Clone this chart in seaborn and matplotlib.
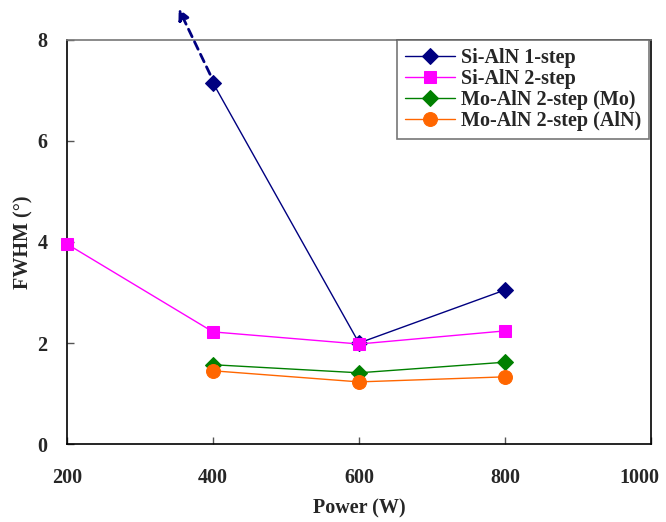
import numpy as np
import pandas as pd
import matplotlib.pyplot as plt
import matplotlib.transforms as mtransforms
import seaborn as sns

power = [200, 400, 600, 800]
si_1step = [np.nan, 7.15, 2.0, 3.05]
si_2step = [3.96, 2.22, 1.98, 2.24]
mo_2step_mo = [np.nan, 1.57, 1.41, 1.62]
mo_2step_aln = [np.nan, 1.45, 1.23, 1.33]
names = ["Si-AlN 1-step", "Si-AlN 2-step", "Mo-AlN 2-step (Mo)", "Mo-AlN 2-step (AlN)"]
xticks = [200, 400, 600, 800, 1000]
yticks = [0, 2, 4, 6, 8]

sns.set_style("ticks")
plt.rcParams['font.family'] = ['Liberation Serif', 'DejaVu Serif']
plt.rcParams['font.weight'] = 'bold'

data = pd.DataFrame({
    'power': power * 4,
    'fwhm': si_1step + si_2step + mo_2step_mo + mo_2step_aln,
    'series': [n for n in names for _ in power],
}).dropna()

fig = plt.figure(figsize=(6.66, 5.22), dpi=100)
ax = fig.add_axes([0.1006, 0.1494, 0.8769, 0.774])

colors = ['#000080', '#FF00FF', '#008000', '#FF6600']
markers = ['D', 's', 'D', 'o']
sizes = [8, 8, 8, 10]
for name, c, m, s in zip(names, colors, markers, sizes):
    sub = data[data['series'] == name]
    sns.lineplot(data=sub, x='power', y='fwhm', ax=ax, color=c, marker=m,
                 markersize=s, markeredgecolor=c, linewidth=1, label=name,
                 clip_on=False, zorder=3)

# dashed arrow leaving the top of the plot
ax.annotate('', xy=(353, 8.62), xytext=(396, 7.32), annotation_clip=False,
            arrowprops=dict(arrowstyle='-|>', linestyle=(0, (3, 2)), color='#000080',
                            lw=2, mutation_scale=16, shrinkA=0, shrinkB=0))

ax.set_xlim(200, 1000)
ax.set_ylim(0, 8)
ax.set_xticks(xticks)
ax.set_yticks(yticks)
ax.tick_params(direction='in', length=5, width=1, labelsize=14.5, color='#555555')
ax.tick_params(axis='x', pad=17)
ax.tick_params(axis='y', pad=14)
for lab in ax.get_xticklabels() + ax.get_yticklabels():
    lab.set_fontweight('bold')
# last x label sits a little inside the figure edge
last = ax.get_xticklabels()[-1]
last.set_transform(last.get_transform() + mtransforms.ScaledTranslation(-0.12, 0, fig.dpi_scale_trans))
ax.set_xlabel('Power (W)', fontsize=14.5, fontweight='bold', labelpad=8)
ax.set_ylabel('FWHM (°)', fontsize=14.5, fontweight='bold', labelpad=3)

for side in ['left', 'bottom', 'right']:
    ax.spines[side].set_color('black')
    ax.spines[side].set_linewidth(1.2)
ax.spines['top'].set_color('#777777')
ax.spines['top'].set_linewidth(1.2)

leg = ax.legend(loc='upper right', bbox_to_anchor=(0.997, 1.0), borderaxespad=0,
                fancybox=False, frameon=True, prop={'size': 14.5, 'weight': 'bold'},
                handlelength=2.5, handletextpad=0.3, labelspacing=0.05,
                borderpad=0.4)
leg.get_frame().set_edgecolor('#555555')
leg.get_frame().set_linewidth(1.2)
leg.set_zorder(5)

fig.savefig('out.png', dpi=100)
